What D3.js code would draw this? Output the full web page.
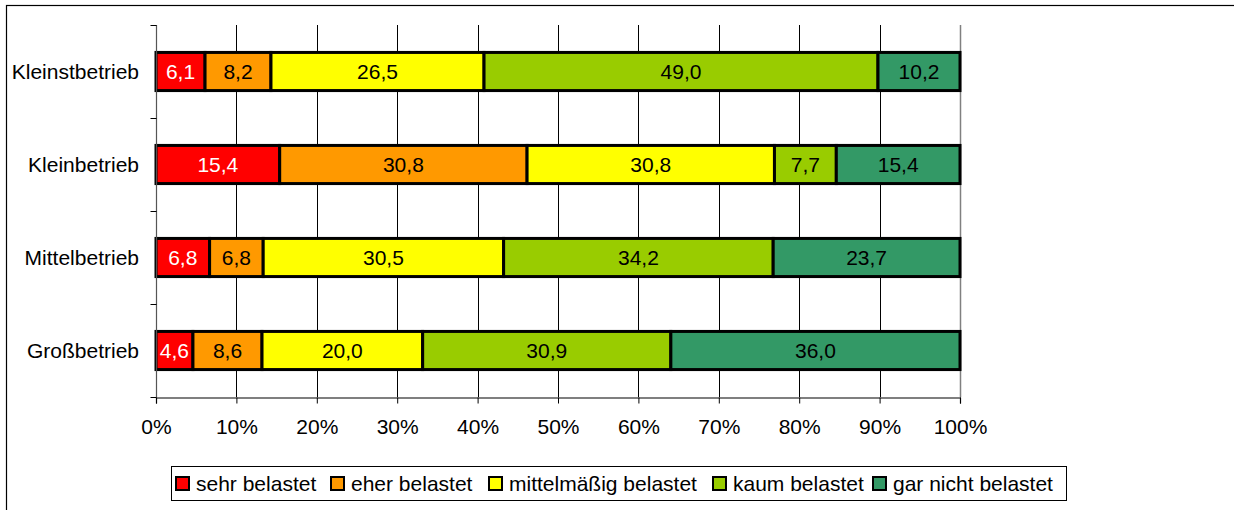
<!DOCTYPE html>
<html><head><meta charset="utf-8">
<script src="https://cdn.jsdelivr.net/npm/d3@7"></script>
<style>html,body{margin:0;padding:0;background:#fff;}svg{display:block;font-family:"Liberation Sans",Arial,sans-serif;}</style>
</head><body>
<svg id="c" width="1234" height="510"></svg>
<script>
const categories = ["Kleinstbetrieb", "Kleinbetrieb", "Mittelbetrieb", "Großbetrieb"];
const seriesNames = ["sehr belastet", "eher belastet", "mittelmäßig belastet", "kaum belastet", "gar nicht belastet"];
const seriesColors = ["#FF0000", "#FF9900", "#FFFF00", "#99CC00", "#339966"];
const labelColors = ["#FFFFFF", "#000000", "#000000", "#000000", "#000000"];
const sehr = [6.1, 15.4, 6.8, 4.6];
const eher = [8.2, 30.8, 6.8, 8.6];
const mittel = [26.5, 30.8, 30.5, 20.0];
const kaum = [49.0, 7.7, 34.2, 30.9];
const garNicht = [10.2, 15.4, 23.7, 36.0];
const tickValues = [0, 0.1, 0.2, 0.3, 0.4, 0.5, 0.6, 0.7, 0.8, 0.9, 1.0];

const series = [sehr, eher, mittel, kaum, garNicht];
const svg = d3.select("#c");
const FS = 21;

// outer frame (only top/left visible)
svg.append("rect").attr("x", 6.5).attr("y", 5.5).attr("width", 1300).attr("height", 600)
  .attr("fill", "none").attr("stroke", "#000").attr("stroke-width", 1.2);

const x = d3.scaleLinear().domain([0, 1]).range([156, 960]);
const y = d3.scaleBand().domain(categories).range([25, 397]).paddingInner(0.59).paddingOuter(0.295);

// table of normalized stacks
const rows = categories.map((c, i) => {
  const vals = series.map(s => s[i]);
  const tot = d3.sum(vals);
  let acc = 0;
  return vals.map((v, k) => { const seg = {cat: c, k, v, x0: acc / tot, x1: (acc + v) / tot}; acc += v; return seg; });
});

// gridlines
svg.append("g").selectAll("line").data(tickValues.slice(1)).join("line")
  .attr("x1", d => Math.round(x(d)) + 0.5).attr("x2", d => Math.round(x(d)) + 0.5)
  .attr("y1", 25).attr("y2", 397)
  .attr("stroke", d => d === 1 ? "#808080" : "#000").attr("stroke-width", d => d === 1 ? 1.5 : 1);

// bars
const segs = rows.flat();
svg.append("g").selectAll("rect").data(segs).join("rect")
  .attr("x", d => x(d.x0)).attr("width", d => x(d.x1) - x(d.x0))
  .attr("y", d => y(d.cat)).attr("height", y.bandwidth())
  .attr("fill", d => seriesColors[d.k]).attr("stroke", "#000").attr("stroke-width", 3);

svg.append("g").selectAll("text").data(segs).join("text")
  .attr("x", d => (x(d.x0) + x(d.x1)) / 2).attr("y", d => y(d.cat) + y.bandwidth() / 2 + 7.5)
  .attr("text-anchor", "middle").attr("font-size", FS)
  .attr("fill", d => labelColors[d.k])
  .text(d => d3.format(".1f")(d.v).replace(".", ","));

// y axis
const yAxis = svg.append("g").attr("transform", "translate(156.5,0)");
yAxis.append("line").attr("y1", 25).attr("y2", 397).attr("stroke", "#555").attr("stroke-width", 1.2);
const yTicks = [25, ...categories.map(c => y(c) + y.bandwidth() / 2 + y.step() / 2)];
yAxis.selectAll("line.t").data(yTicks).join("line").attr("class", "t")
  .attr("x1", -6).attr("x2", 0).attr("y1", d => Math.round(d) + 0.5).attr("y2", d => Math.round(d) + 0.5)
  .attr("stroke", "#000");
svg.append("g").selectAll("text").data(categories).join("text")
  .attr("x", 139).attr("y", d => y(d) + y.bandwidth() / 2 + 7.5)
  .attr("text-anchor", "end").attr("font-size", FS).attr("fill", "#000").text(d => d);

// x axis
const xAxis = d3.axisBottom(x).tickValues(tickValues).tickSize(6).tickPadding(16)
  .tickFormat(d => Math.round(d * 100) + "%");
const gx = svg.append("g").attr("transform", "translate(0,397.5)").call(xAxis);
gx.select(".domain").attr("stroke", "#000").attr("stroke-width", 1.2);
gx.selectAll(".tick line").attr("stroke", "#000");
gx.selectAll("text").attr("font-size", FS).attr("fill", "#000").attr("font-family", "Liberation Sans, Arial, sans-serif");

// legend
const lg = svg.append("g");
lg.append("rect").attr("x", 171.5).attr("y", 466.5).attr("width", 895).attr("height", 34)
  .attr("fill", "#fff").attr("stroke", "#000").attr("stroke-width", 1);
const legendX = [176, 331, 489, 713, 873];
seriesNames.forEach((n, k) => {
  lg.append("rect").attr("x", legendX[k]).attr("y", 477).attr("width", 13).attr("height", 13)
    .attr("fill", seriesColors[k]).attr("stroke", "#000").attr("stroke-width", 2);
  lg.append("text").attr("x", legendX[k] + 20).attr("y", 490.5).attr("font-size", FS).attr("fill", "#000").text(n);
});
</script>
</body></html>
